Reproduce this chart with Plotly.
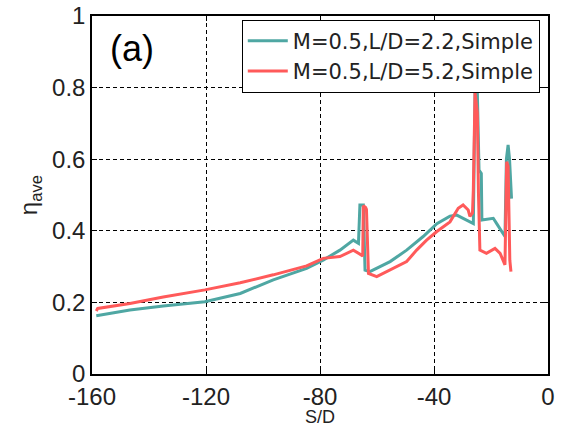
import plotly.graph_objects as go

# Series: M=0.5, L/D=2.2, Simple (teal)
sd_22 = [-158.5, -155, -146.7, -135, -120.4, -108, -96.4, -84.7, -78.9, -73, -68.3, -66.5,
         -66.0, -64.8, -64.2, -62.5, -55.4, -49.6, -43.8, -39, -34.4, -32, -28.6, -26.2,
         -25.6, -24.8, -24.2, -23.4, -23.2, -19.2, -18, -15.1, -14.6, -14.0, -13.5, -13.2, -12.8]
eta_22 = [0.163, 0.168, 0.179, 0.19, 0.202, 0.225, 0.263, 0.295, 0.318, 0.346, 0.374, 0.365,
          0.472, 0.472, 0.29, 0.286, 0.314, 0.346, 0.384, 0.42, 0.441, 0.444, 0.43, 0.42,
          0.79, 0.79, 0.57, 0.56, 0.43, 0.435, 0.42, 0.384, 0.6, 0.64, 0.6, 0.55, 0.49]

# Series: M=0.5, L/D=5.2, Simple (red)
sd_52 = [-158.5, -158, -146.7, -135, -120.4, -108, -96.4, -84.7, -78.9, -73, -68.3, -66.5,
         -65.0, -64.8, -64.0, -63.7, -63.2, -63.0, -60.1, -55.4, -49.6, -46.1, -42.6, -39,
         -34.4, -31.5, -29.8, -28, -27.4, -26.5, -26.2, -25.6, -24.8, -24.4, -23.9, -21.6,
         -18.6, -16.8, -15.7, -15.1, -14.5, -14.0, -13.4, -13.0]
eta_52 = [0.176, 0.183, 0.197, 0.215, 0.235, 0.255, 0.277, 0.302, 0.323, 0.328, 0.346, 0.337,
          0.33, 0.47, 0.465, 0.46, 0.29, 0.281, 0.272, 0.29, 0.314, 0.346, 0.374, 0.398,
          0.425, 0.463, 0.472, 0.458, 0.44, 0.45, 0.514, 0.785, 0.73, 0.505, 0.346, 0.337,
          0.351, 0.337, 0.314, 0.305, 0.593, 0.58, 0.318, 0.286]

x_ticks = [-160, -120, -80, -40, 0]
y_ticks = [0, 0.2, 0.4, 0.6, 0.8, 1]
y_tick_text = ["0", "0.2", "0.4", "0.6", "0.8", "1"]

FONT = "Liberation Sans, Arial, sans-serif"
LEG_FONT = "DejaVu Sans, Liberation Sans, sans-serif"
TXT = "#222222"

fig = go.Figure()
fig.add_trace(go.Scatter(x=sd_22, y=eta_22, mode="lines", name="M=0.5,L/D=2.2,Simple",
                         line=dict(color="#4FA7A3", width=3)))
fig.add_trace(go.Scatter(x=sd_52, y=eta_52, mode="lines", name="M=0.5,L/D=5.2,Simple",
                         line=dict(color="#FF5A5A", width=3)))

axis_common = dict(showline=True, linecolor="black", linewidth=1.5, mirror="ticks",
                   ticks="inside", ticklen=5, tickcolor="black", tickwidth=1,
                   showgrid=True, gridcolor="black", griddash="4px,3px", gridwidth=1,
                   zeroline=False, automargin=False,
                   tickfont=dict(family=FONT, size=24, color=TXT))

fig.update_layout(
    width=561, height=428,
    margin=dict(l=92, r=13, t=16, b=54),
    plot_bgcolor="white", paper_bgcolor="white",
    font=dict(family=FONT, color=TXT),
    xaxis=dict(range=[-160, 0], tickvals=x_ticks, ticktext=[str(v) for v in x_ticks],
               **axis_common),
    yaxis=dict(range=[0, 1], tickvals=y_ticks, ticktext=y_tick_text,
               title=dict(text="η<sub>ave</sub>", font=dict(size=24), standoff=8), **axis_common),
    legend=dict(x=0.982, y=0.99, xanchor="right", yanchor="top",
                bgcolor="white", bordercolor="black", borderwidth=1,
                font=dict(family=LEG_FONT, size=21, color=TXT),
                tracegroupgap=0, itemwidth=40),
    showlegend=True,
)
fig.add_annotation(x=0.035, y=0.91, xref="paper", yref="paper", text="(a)",
                   showarrow=False, xanchor="left", yanchor="middle",
                   font=dict(family=FONT, size=36, color="black"))
fig.add_annotation(x=0.5, y=-0.121, xref="paper", yref="paper", text="S/D",
                   showarrow=False, xanchor="center", yanchor="middle",
                   font=dict(family=FONT, size=18, color=TXT))

fig.write_html("out.html")
